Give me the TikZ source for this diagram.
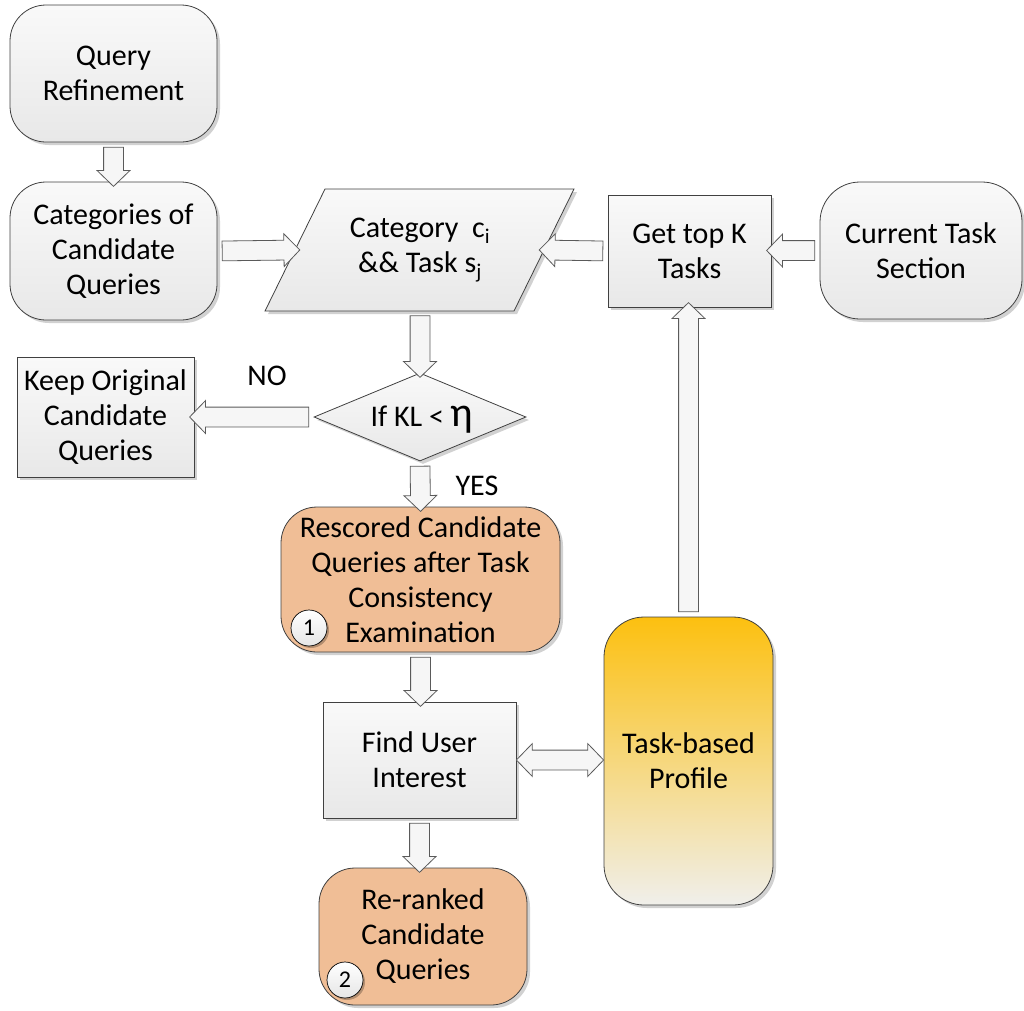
\documentclass[tikz,border=0pt]{standalone}
\usepackage{fontspec}
\setmainfont{Carlito}
\usetikzlibrary{shapes.geometric,shapes.arrows,shadows,calc}
\definecolor{bord}{HTML}{404040}
\definecolor{arrline}{HTML}{5A5A5A}
\definecolor{orng}{HTML}{F0BE96}
\definecolor{gold}{HTML}{FCC010}
\definecolor{cream}{HTML}{F0EFEB}
\definecolor{boxtop}{HTML}{F9F9F9}
\definecolor{boxbot}{HTML}{E8E8E8}
\newcommand\blockarrow[3]{%
  \path let \p1=(#1), \p2=(#2), \n1={veclen(\x2-\x1,\y2-\y1)}, \n2={atan2(\y2-\y1,\x2-\x1)} in
    node[#3, minimum height=\n1, rotate=\n2] at ($(\p1)!0.5!(\p2)$) {};}
\begin{document}
\begin{tikzpicture}[x=1pt,y=-1pt,
  every node/.style={font=\fontsize{30}{35}\selectfont, align=center, text=black},
  shad/.style={drop shadow={shadow xshift=3pt,shadow yshift=-3pt,fill=black,opacity=0.18}},
  gbox/.style={draw=bord, line width=0.8pt, top color=boxtop, bottom color=boxbot, shad, inner sep=0pt},
  rbox/.style={gbox, rounded corners=36pt},
  obox/.style={draw=bord, line width=0.8pt, fill=orng, shad, rounded corners=36pt, inner sep=0pt},
  numcirc/.style={circle, draw=black, line width=0.7pt, top color=white, bottom color=gray!20, minimum size=36pt, inner sep=0pt, font=\fontsize{24}{24}\selectfont, drop shadow={shadow xshift=2pt,shadow yshift=-2pt,fill=black,opacity=0.25}},
  barrow/.style={single arrow, draw=arrline, line width=0.8pt, fill=gray!7, inner xsep=0pt, inner ysep=9.5pt, minimum width=0pt, single arrow head extend=6.5pt, single arrow tip angle=92},
  dbarrow/.style={double arrow, draw=arrline, line width=0.8pt, fill=gray!7, inner xsep=0pt, inner ysep=9.5pt, minimum width=0pt, double arrow head extend=6.5pt, double arrow tip angle=92},
  lbl/.style={inner sep=0pt}
]
\useasboundingbox (0,0) rectangle (1024,1010);

% nodes
\node[rbox, minimum width=207pt, minimum height=137pt] (qr) at (113.5,73.5) {Query\\Refinement};
\node[rbox, minimum width=207pt, minimum height=138pt] (cq) at (113.5,251) {Categories of\\Candidate\\Queries};

\draw[draw=bord, line width=0.8pt, top color=boxtop, bottom color=boxbot, shad]
  (325,189) -- (574,189) -- (514,311) -- (265,311) -- cycle;
\node[lbl] (cat) at (420,250) {Category\ \ c\textsubscript{i}\\\&\& Task s\textsubscript{j}};
\coordinate (parW) at (295,250);
\coordinate (parE) at (544,250);
\coordinate (parS) at (420,311);

\node[gbox, minimum width=163pt, minimum height=112pt] (gk) at (689.5,251) {Get top K\\Tasks};
\node[rbox, rounded corners=40pt, minimum width=202pt, minimum height=137pt] (ct) at (921,250.5) {Current Task\\Section};

\node[diamond, draw=bord, line width=0.8pt, top color=boxtop, bottom color=boxbot, shad, inner sep=0pt, minimum width=212pt, minimum height=88pt] (kl) at (420,417) {};
\node[lbl] (kltext) at (422,420) {If KL < {\fontsize{42}{42}\selectfont η}};

\node[gbox, minimum width=177pt, minimum height=120pt] (keep) at (105.5,417) {Keep Original\\Candidate\\Queries};

\node[obox, minimum width=279pt, minimum height=145pt] (rs) at (420.5,579.5) {Rescored Candidate\\Queries after Task\\Consistency\\Examination};
\node[numcirc] (c1) at (309,628) {1};

\node[gbox, minimum width=193pt, minimum height=116pt] (fu) at (419.5,760) {Find User\\Interest};

\node[draw=bord, line width=0.8pt, top color=gold, bottom color=cream, shad, rounded corners=40pt, inner sep=0pt, minimum width=169pt, minimum height=288pt] (tp) at (688.5,761) {Task-based\\Profile};

\node[obox, minimum width=208pt, minimum height=137pt] (rr) at (423,936.5) {Re-ranked\\Candidate\\Queries};
\node[numcirc] (c2) at (345,980) {2};

% labels
\node[lbl] (no) at (267,376) {NO};
\node[lbl] (yes) at (477,486) {YES};

% connectors
\blockarrow{qr.south}{cq.north}{barrow}
\blockarrow{cq.east}{parW}{barrow}
\blockarrow{gk.west}{parE}{barrow}
\blockarrow{ct.west}{ct.west -| gk.east}{barrow}
\blockarrow{parS}{kl.north}{barrow}
\blockarrow{kl.west}{kl.west -| keep.east}{barrow}
\blockarrow{kl.south}{rs.north}{barrow}
\blockarrow{rs.south}{rs.south |- fu.north}{barrow}
\blockarrow{fu.south}{fu.south |- rr.north}{barrow}
\blockarrow{tp.north}{tp.north |- gk.south}{barrow}
\blockarrow{fu.east}{fu.east -| tp.west}{dbarrow}
\end{tikzpicture}
\end{document}
